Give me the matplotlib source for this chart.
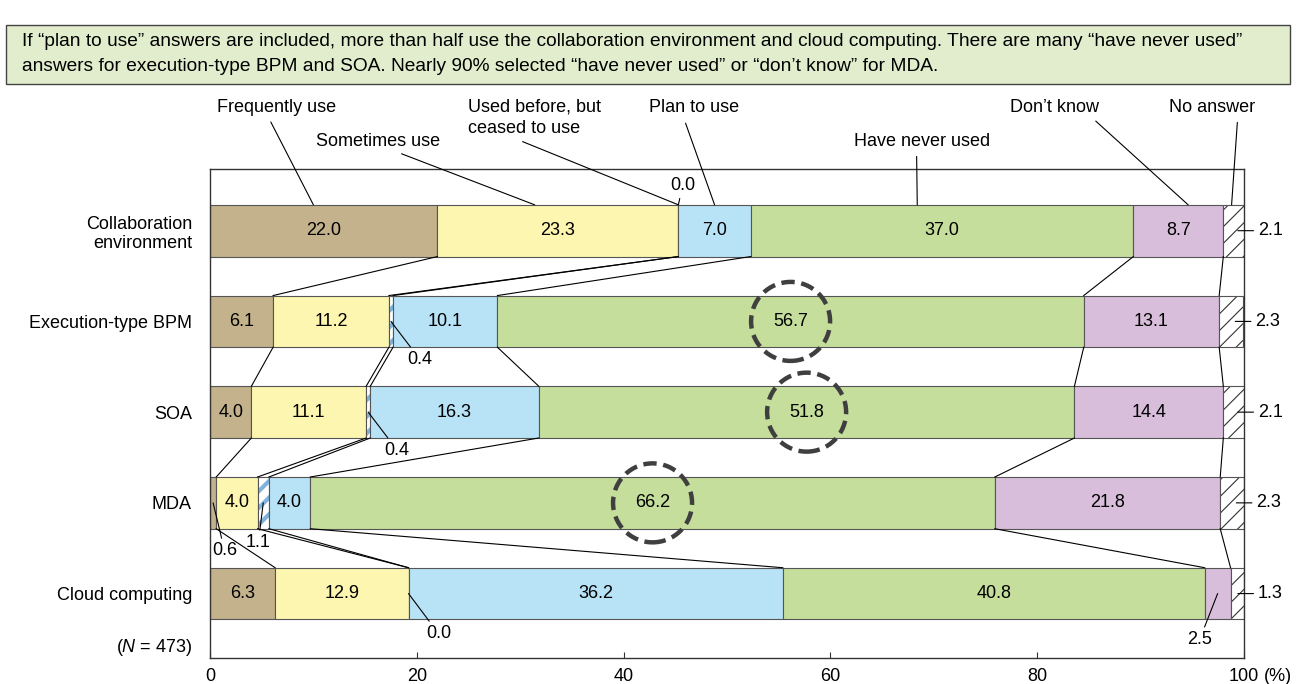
import numpy as np
import matplotlib
matplotlib.use('Agg')
from matplotlib import pyplot as plt
from matplotlib import patches, transforms

plt.rcParams['font.family'] = ['Liberation Sans', 'DejaVu Sans']
plt.rcParams['mathtext.fontset'] = 'custom'
plt.rcParams['mathtext.it'] = 'Liberation Sans:italic'
plt.rcParams['mathtext.rm'] = 'Liberation Sans'

categories = ['Collaboration\nenvironment', 'Execution-type BPM', 'SOA', 'MDA', 'Cloud computing']
answers = ['Frequently use', 'Sometimes use', 'Used before, but\nceased to use', 'Plan to use',
           'Have never used', 'Don\u2019t know', 'No answer']

frequently = [22.0, 6.1, 4.0, 0.6, 6.3]
sometimes = [23.3, 11.2, 11.1, 4.0, 12.9]
ceased = [0.0, 0.4, 0.4, 1.1, 0.0]
plan = [7.0, 10.1, 16.3, 4.0, 36.2]
never = [37.0, 56.7, 51.8, 66.2, 40.8]
dont_know = [8.7, 13.1, 14.4, 21.8, 2.5]
no_answer = [2.1, 2.3, 2.1, 2.3, 1.3]

circled_rows = ['Execution-type BPM', 'SOA', 'MDA']
n_total = 473

note = ('If \u201cplan to use\u201d answers are included, more than half use the collaboration environment '
        'and cloud computing. There are many \u201chave never used\u201d\n'
        'answers for execution-type BPM and SOA. Nearly 90% selected \u201chave never used\u201d '
        'or \u201cdon\u2019t know\u201d for MDA.')

colors = ['#c4b28c', '#fdf6b0', 'white', '#b8e2f6', '#c5de9c', '#d8bedb', 'white']
edge = '#555555'
fs = 13

W, H_px = 1297, 684
fig = plt.figure(figsize=(W / 100, H_px / 100), dpi=100)

# header note box
fig.patches.append(patches.Rectangle((6 / W, 1 - 84 / H_px), 1284 / W, 59 / H_px, transform=fig.transFigure,
                                     facecolor='#e2edce', edgecolor='#444444', lw=1.0))
fig.text(22 / W, 1 - 54 / H_px, note, ha='left', va='center', fontsize=13.8, linespacing=1.65)

ax = fig.add_axes([210 / W, 26 / H_px, 1034 / W, 489 / H_px])

values = np.array([frequently, sometimes, ceased, plan, never, dont_know, no_answer])
rows = np.arange(len(categories))
ends = np.cumsum(values, axis=0)
starts = ends - values
bar_h = 0.57

for j in range(len(answers)):
    if j in (2, 6):
        hatch_col = '#7fb3dc' if j == 2 else '#333333'
        hatch_lw = 3.0 if j == 2 else 0.8
        with plt.rc_context({'hatch.linewidth': hatch_lw}):
            bars = ax.barh(rows, values[j], left=starts[j], height=bar_h, color='white',
                           edgecolor=hatch_col, hatch='//', lw=0)
        for b in bars:
            if hasattr(b, 'set_hatch_linewidth'):
                b.set_hatch_linewidth(hatch_lw)
        ax.barh(rows, values[j], left=starts[j], height=bar_h, fill=False, edgecolor=edge, lw=0.8)
    else:
        ax.barh(rows, values[j], left=starts[j], height=bar_h, color=colors[j], edgecolor=edge, lw=0.8)

# connecting lines between segment boundaries of neighbouring bars
for i in range(len(rows) - 1):
    for j in range(len(answers) - 1):
        ax.plot([min(ends[j][i], 100), min(ends[j][i + 1], 100)],
                [rows[i] + bar_h / 2, rows[i + 1] - bar_h / 2], color='black', lw=0.8)

# values inside the bars
for j in (0, 1, 3, 4, 5):
    for i in rows:
        if values[j][i] >= 3:
            ax.text(starts[j][i] + values[j][i] / 2, rows[i], f'{values[j][i]:.1f}',
                    ha='center', va='center', fontsize=fs)

# dashed rings on the "have never used" share
for name in circled_rows:
    i = categories.index(name)
    xc = starts[4][i] + values[4][i] / 2
    ring = patches.Circle((0, 0), 0.395, transform=fig.dpi_scale_trans
                          + transforms.ScaledTranslation(xc, rows[i], ax.transData),
                          fill=False, edgecolor='#3f3f3f', lw=3.2, linestyle=(0, (3.0, 1.5)))
    ax.add_patch(ring)

px = 0.72  # points per pixel
leader = dict(arrowstyle='-', color='black', lw=0.8, shrinkA=1, shrinkB=0)

# small values labelled outside: (row, column, dx, dy, ha, anchored at top edge)
small_labels = [(0, 2, 4, 19, 'center', True),
                (1, 2, 29, -38, 'center', False),
                (2, 2, 29, -38, 'center', False),
                (3, 0, -1, -48, 'left', False),
                (3, 2, -5, -40, 'center', False),
                (4, 2, 30, -40, 'center', False),
                (4, 5, -18, -46, 'center', False)]
for i, j, dx, dy, ha, top in small_labels:
    xy = (starts[j][i] + values[j][i] / 2, rows[i] - bar_h / 2 if top else rows[i])
    ax.annotate(f'{values[j][i]:.1f}', xy=xy, xytext=(dx * px, dy * px), textcoords='offset points',
                ha=ha, va='center', fontsize=fs, arrowprops=leader)

for i in rows:
    xy = (starts[6][i] + values[6][i] / 2, rows[i])
    ax.annotate(f'{values[6][i]:.1f}', xy=(min(xy[0], 99), xy[1]), xytext=(24 * px, 0),
                textcoords='offset points', ha='left', va='center', fontsize=fs,
                arrowprops=dict(leader, shrinkB=3))

# answer names above the first bar: (text x, text y from top, ha, anchor x, relpos)
legend_pos = [(277, 107, 'center', 10.0, (0.42, 0)),
              (378, 141, 'center', 31.4, (0.6, 0)),
              (468, 118, 'left', 45.3, (0.33, 0)),
              (694, 108, 'center', 48.8, (0.38, 0)),
              (922, 141, 'center', 68.4, (0.46, 0)),
              (1054, 107, 'center', 94.6, (0.9, 0)),
              (1212, 107, 'center', 98.8, (0.8, 0))]
for name, (tx, ty, ha, ax_x, rel) in zip(answers, legend_pos):
    ax.annotate(name, xy=(ax_x, rows[0] - bar_h / 2), xytext=(tx, H_px - ty), textcoords='figure pixels',
                ha=ha, va='center', fontsize=fs, linespacing=1.35,
                arrowprops=dict(arrowstyle='-', color='black', lw=0.8, relpos=rel, shrinkA=3, shrinkB=0))

ax.set_xlim(0, 100)
ax.set_ylim(4.71, -0.68)
ax.set_xticks([0, 20, 40, 60, 80, 100])
ax.set_xticklabels(['0', '20', '40', '60', '80', '100'], fontsize=fs)
ax.tick_params(axis='x', direction='in', length=4.5, width=0.8, pad=7, color='#333333')
ax.set_yticks(rows)
ax.set_yticklabels(categories, fontsize=fs, multialignment='right')
ax.tick_params(axis='y', length=0, pad=13)
for s in ax.spines.values():
    s.set_color('#333333')
    s.set_linewidth(1.0)

ax.annotate('(%)', xy=(100, 0), xycoords=('data', 'axes fraction'), xytext=(14, -13),
            textcoords='offset points', ha='left', va='center', fontsize=fs)
fig.text(192 / W, 1 - 647 / H_px, f'($N$ = {n_total})', ha='right', va='center', fontsize=fs)

plt.savefig('out.png', dpi=100)
